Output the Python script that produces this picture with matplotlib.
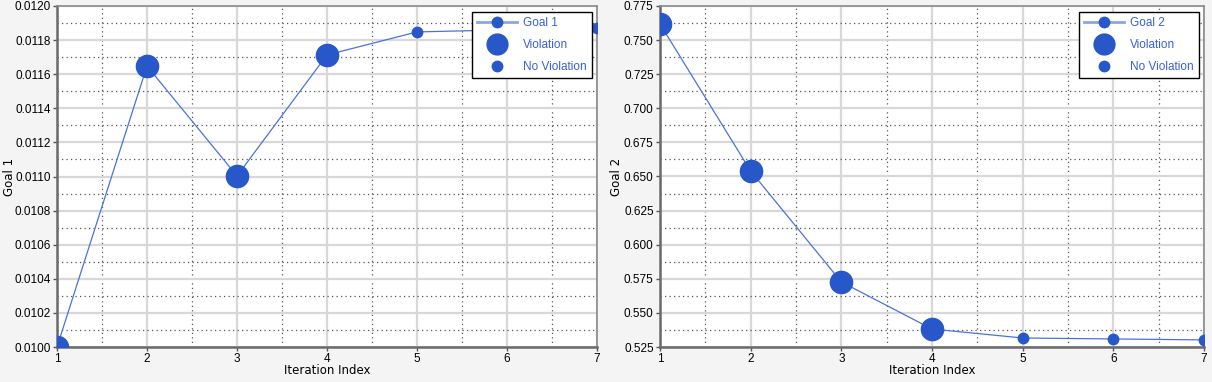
import matplotlib
matplotlib.use("Agg")
import matplotlib.pyplot as plt
from matplotlib.lines import Line2D
from matplotlib.ticker import MultipleLocator, FormatStrFormatter

iterations = [1, 2, 3, 4, 5, 6, 7]
goal1 = [0.01000, 0.011648, 0.011003, 0.011713, 0.011848, 0.01186, 0.01187]
goal2 = [0.7618, 0.654, 0.5727, 0.5382, 0.5316, 0.5309, 0.5302]
violation = [True, True, True, True, False, False, False]

panels = [
    dict(y=goal1, name="Goal 1", ylim=(0.0100, 0.0120), step=0.0002, fmt="%.4f", lx=10),
    dict(y=goal2, name="Goal 2", ylim=(0.525, 0.775), step=0.025, fmt="%.3f", lx=617),
]

MC = "#2757c9"
LC = "#4a72dc"
TC = "#3a5fd6"
BG = "#f4f4f4"
W, H = 1212, 382
TF = "Liberation Sans"

fig = plt.figure(figsize=(W / 100, H / 100), dpi=100, facecolor=BG)
rects = [[57/W, 1-347/H, 540/W, 341/H],
         [660/W, 1-347/H, 544/W, 341/H]]

for rect, p in zip(rects, panels):
    ax = fig.add_axes(rect)
    ax.set_facecolor("white")
    ax.plot(iterations, p["y"], color=LC, lw=0.9, zorder=3)
    for x, y, v in zip(iterations, p["y"], violation):
        ax.plot([x], [y], "o", color=MC, ms=16 if v else 7.5, mec=MC, zorder=4)
    ax.set_xlim(1, 7)
    ax.set_ylim(*p["ylim"])
    ax.xaxis.set_major_locator(MultipleLocator(1))
    ax.xaxis.set_minor_locator(MultipleLocator(0.5))
    ax.yaxis.set_major_locator(MultipleLocator(p["step"]))
    ax.yaxis.set_minor_locator(MultipleLocator(p["step"] / 2))
    ax.yaxis.set_major_formatter(FormatStrFormatter(p["fmt"]))
    ax.grid(which="major", color="#d8d8d8", lw=1.6, ls="-", zorder=0)
    ax.grid(which="minor", color="#555555", lw=0.9, ls=(0, (1, 2.6)), zorder=0)
    ax.tick_params(which="minor", length=0)
    ax.tick_params(which="major", length=3, width=1, color="#555555", labelsize=8.5, pad=1.5)
    for lab in ax.get_xticklabels() + ax.get_yticklabels():
        lab.set_family(TF)
    for s in ["left", "bottom"]:
        ax.spines[s].set_color("#6a6a6a")
        ax.spines[s].set_linewidth(1.8)
    for s in ["top", "right"]:
        ax.spines[s].set_color("#8a8a8a")
        ax.spines[s].set_linewidth(1.2)
    ax.set_xlabel("Iteration Index", fontsize=8.5)
    ax.xaxis.set_label_coords(0.5, -0.05)
    fig.text(p["lx"] / W, 1 - 177 / H, p["name"], rotation=90, fontsize=8.5,
             ha="center", va="center")
    handles = [
        Line2D([], [], color="#8aa5e8", lw=2, marker="o", ms=7.5, mfc=MC, mec=MC),
        Line2D([], [], ls="none", marker="o", ms=15, mfc=MC, mec=MC),
        Line2D([], [], ls="none", marker="o", ms=7.5, mfc=MC, mec=MC),
    ]
    leg = ax.legend(handles, [p["name"], "Violation", "No Violation"],
                    loc="upper right", bbox_to_anchor=(0.99, 0.983),
                    prop={"family": TF, "size": 8.5}, frameon=True, fancybox=False,
                    framealpha=1, edgecolor="black", handlelength=3.4,
                    labelspacing=0.85, borderpad=0.45, handletextpad=0.45,
                    borderaxespad=0)
    leg.get_frame().set_linewidth(1.0)
    for t in leg.get_texts():
        t.set_color(TC)

fig.savefig("out.png", dpi=100, facecolor=BG)
